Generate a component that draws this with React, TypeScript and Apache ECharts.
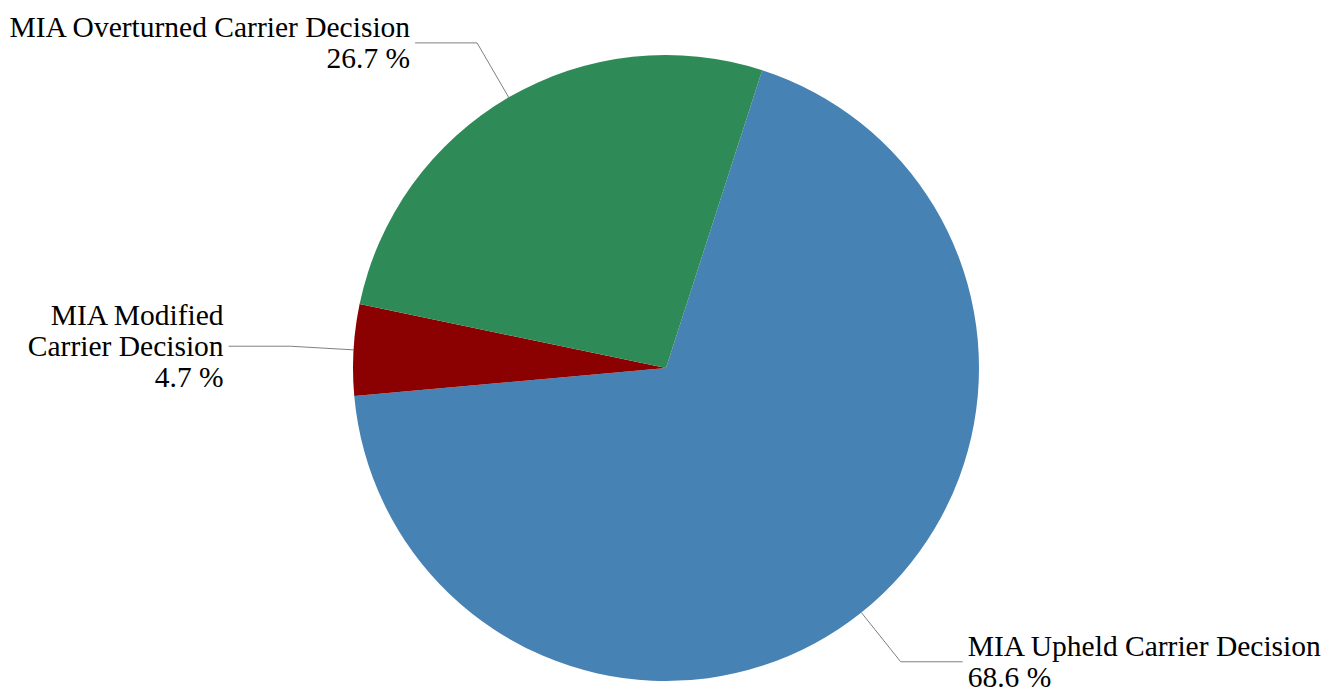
import React, { useEffect, useRef } from "react";
import * as echarts from "echarts";

const categories = [
  "MIA Upheld Carrier Decision",
  "MIA Modified\nCarrier Decision",
  "MIA Overturned Carrier Decision",
];
const values = [68.6, 4.7, 26.7];
const colors = ["#4682B4", "#8B0000", "#2E8B57"];

export default function App() {
  const ref = useRef<HTMLDivElement>(null);
  useEffect(() => {
    if (!ref.current) return;
    const chart = echarts.init(ref.current, undefined, { renderer: "svg" });
    chart.setOption({
      animation: false,
      backgroundColor: "#ffffff",
      series: [
        {
          type: "pie",
          center: [666, 368],
          radius: 313,
          startAngle: 72.1,
          clockwise: true,
          avoidLabelOverlap: false,
          data: categories.map((name, i) => ({
            name,
            value: values[i],
            itemStyle: { color: colors[i] },
          })),
          itemStyle: { borderWidth: 0 },
          label: {
            show: true,
            position: "outside",
            formatter: (p: any) => `${p.name}\n${values[p.dataIndex].toFixed(1)} %`,
            fontFamily: "Liberation Serif",
            fontSize: 29.5,
            lineHeight: 31,
            color: "#000000",
            distanceToLabelLine: 5,
            bleedMargin: 0,
            overflow: "none",
          },
          labelLine: {
            show: true,
            length: 63,
            length2: 62,
            lineStyle: { color: "#808080", width: 1 },
          },
          emphasis: { disabled: true },
        },
      ],
    });
    return () => chart.dispose();
  }, []);
  return (
    <div
      ref={ref}
      style={{ position: "fixed", left: 0, top: 0, width: 1333, height: 692 }}
    />
  );
}
